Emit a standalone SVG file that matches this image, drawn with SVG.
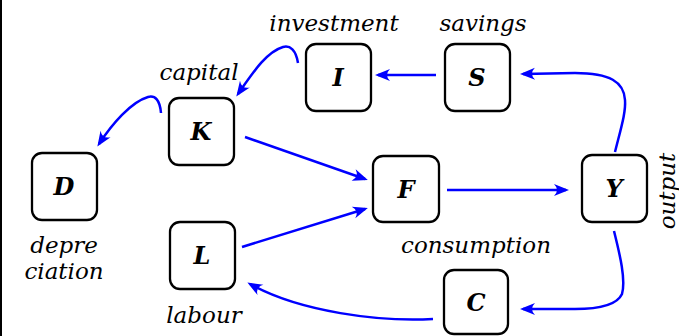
<svg xmlns="http://www.w3.org/2000/svg" width="679" height="336" viewBox="0 0 679 336">
<style>
.box{fill:#fff;stroke:#000;stroke-width:2.3}
.lt{font-family:"DejaVu Serif","Liberation Serif",serif;font-weight:bold;font-style:italic;font-size:24px;text-anchor:middle;fill:#000}
.lab{font-family:"DejaVu Serif","Liberation Serif",serif;font-style:italic;font-size:23px;text-anchor:middle;fill:#000}
.edge{fill:none;stroke:#0000ff;stroke-width:2.5;marker-end:url(#arr)}
</style>
<defs>
<marker id="arr" markerUnits="userSpaceOnUse" viewBox="-16 -8 20 16" markerWidth="20" markerHeight="16" refX="0" refY="0" orient="auto">
<path d="M3,0 L-12,-6 Q-6,0 -12,6 Z" fill="#0000ff"/>
</marker>
</defs>
<rect width="679" height="336" fill="#fff"/>
<line x1="1" y1="0" x2="1" y2="336" stroke="#000" stroke-width="2"/>
<g id="connectors">
<path class="edge" d="M436,75 L378,75"/>
<path class="edge" d="M615,152 C621,128 626,112 625,100 C624,82 610,73 575,73 L523,74"/>
<path class="edge" d="M298,63 C296,50 290,45 283,47 C266,52 252,74 238,94"/>
<path class="edge" d="M161,113 C160,100 155,95 148,97 C131,102 112,124 99,144"/>
<path class="edge" d="M245,137 L365,179"/>
<path class="edge" d="M242,247 L365,209"/>
<path class="edge" d="M447,190 L566,190"/>
<path class="edge" d="M614,231 C620,255 626,280 622,294 C617,305 600,309 575,309 L523,309"/>
<path class="edge" d="M433,319 C380,322 300,312 250,284"/>
</g>
<g id="node-I"><rect class="box" x="306" y="44" width="65" height="67" rx="10"/><text class="lt" x="338" y="86">I</text></g>
<g id="node-S"><rect class="box" x="445" y="44" width="65" height="67" rx="10"/><text class="lt" x="477" y="86">S</text></g>
<g id="node-K"><rect class="box" x="169" y="98" width="65" height="67" rx="10"/><text class="lt" x="201" y="140">K</text></g>
<g id="node-D"><rect class="box" x="32" y="153" width="65" height="67" rx="10"/><text class="lt" x="64" y="195">D</text></g>
<g id="node-L"><rect class="box" x="170" y="222" width="65" height="67" rx="10"/><text class="lt" x="202" y="264">L</text></g>
<g id="node-F"><rect class="box" x="373" y="156" width="66" height="66" rx="10"/><text class="lt" x="406" y="198">F</text></g>
<g id="node-Y"><rect class="box" x="582" y="155" width="65" height="67" rx="10"/><text class="lt" x="614" y="197">Y</text></g>
<g id="node-C"><rect class="box" x="444" y="270" width="64" height="64" rx="10"/><text class="lt" x="476" y="311">C</text></g>
<g id="labels">
<text class="lab" x="334" y="31">investment</text>
<text class="lab" x="483" y="31">savings</text>
<text class="lab" x="199" y="80">capital</text>
<text class="lab" x="64" y="253">depre</text>
<text class="lab" x="64" y="279">ciation</text>
<text class="lab" x="204" y="323">labour</text>
<text class="lab" x="476" y="253">consumption</text>
<text class="lab" transform="translate(675,191) rotate(-90)">output</text>
</g>
</svg>
